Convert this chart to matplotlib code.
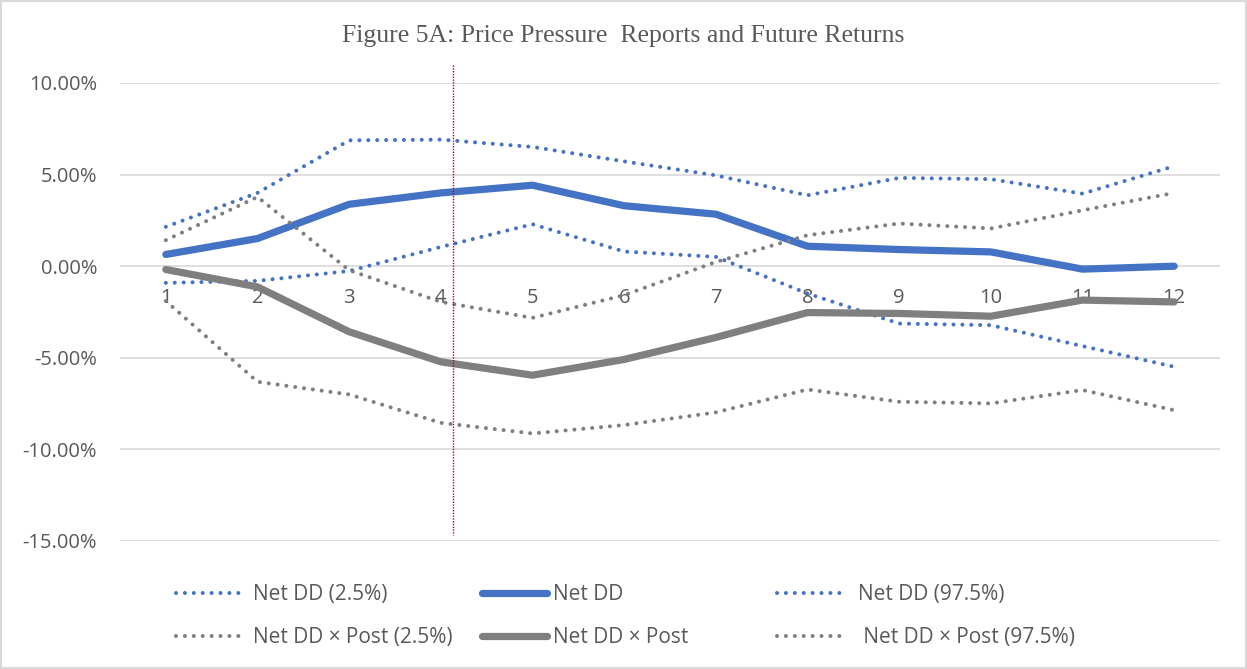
import matplotlib
matplotlib.use("Agg")
import matplotlib.pyplot as plt
from matplotlib.patches import Rectangle
from matplotlib.ticker import FuncFormatter

# data (in percent)
periods = list(range(1, 13))
net_dd = [0.64, 1.51, 3.38, 4.00, 4.42, 3.30, 2.84, 1.09, 0.91, 0.78, -0.16, 0.00]
net_dd_lo = [-0.91, -0.80, -0.26, 1.05, 2.29, 0.80, 0.51, -1.49, -3.13, -3.22, -4.36, -5.49]
net_dd_hi = [2.15, 4.00, 6.87, 6.91, 6.51, 5.72, 4.96, 3.87, 4.82, 4.75, 3.96, 5.46]
post = [-0.18, -1.13, -3.58, -5.22, -5.95, -5.09, -3.89, -2.53, -2.58, -2.73, -1.85, -1.95]
post_lo = [-1.90, -6.31, -7.00, -8.55, -9.13, -8.67, -7.98, -6.73, -7.40, -7.49, -6.76, -7.86]
post_hi = [1.42, 3.78, -0.22, -1.95, -2.82, -1.58, 0.23, 1.69, 2.33, 2.06, 3.05, 4.00]
y_ticks = [-15, -10, -5, 0, 5, 10]
event_x = 4.13   # red marker line

plt.rcParams['font.family'] = ['Open Sans', 'DejaVu Sans']

BLUE = '#4472C4'
GRAY = '#7F7F7F'
TXT = '#595959'
dots = (0, (0.01, 2.2))

fig = plt.figure(figsize=(12.47, 6.69), dpi=100)
ax = fig.add_axes([120/1247, 1 - 541/669, 1100/1247, 458/669])

# chart border
fig.patches.append(Rectangle((0.001, 0.001), 0.998, 0.998, transform=fig.transFigure,
                             fill=False, edgecolor='#D9D9D9', lw=1.5))

h1, = ax.plot(periods, net_dd_lo, color=BLUE, lw=2.9, ls=dots, dash_capstyle='round')
h2, = ax.plot(periods, net_dd, color=BLUE, lw=5.2, solid_capstyle='round', solid_joinstyle='round')
h3, = ax.plot(periods, net_dd_hi, color=BLUE, lw=2.9, ls=dots, dash_capstyle='round')
h4, = ax.plot(periods, post_lo, color=GRAY, lw=2.9, ls=dots, dash_capstyle='round')
h5, = ax.plot(periods, post, color=GRAY, lw=5.2, solid_capstyle='round', solid_joinstyle='round')
h6, = ax.plot(periods, post_hi, color=GRAY, lw=2.9, ls=dots, dash_capstyle='round')

ax.plot([event_x, event_x], [10.98, -14.67], color='#C00000', lw=1.0,
        ls=(0, (1, 1)), clip_on=False, zorder=5)

ax.set_xlim(0.5, 12.5)
ax.set_ylim(-15, 10)
ax.set_yticks(y_ticks)
ax.yaxis.set_major_formatter(FuncFormatter(lambda v, p: '%.2f%%' % v))
ax.set_xticks(periods)
ax.set_xticklabels([str(p) for p in periods])
ax.grid(axis='y', color='#D9D9D9', lw=1.2)
ax.set_axisbelow(True)
for s in ['top', 'right', 'left']:
    ax.spines[s].set_visible(False)
ax.spines['bottom'].set_position(('data', 0))
ax.spines['bottom'].set_color('none')
ax.tick_params(axis='both', length=0, labelsize=14.5, labelcolor=TXT)
ax.tick_params(axis='y', pad=16.5)
ax.tick_params(axis='x', pad=16)

fig.text(0.5, 1 - 36/669, 'Figure 5A: Price Pressure  Reports and Future Returns',
         ha='center', va='center', fontsize=18.5, color=TXT, family='Liberation Serif')

# legend in three separate columns
cols = [([h1, h4], ['Net DD (2.5%)', 'Net DD × Post (2.5%)'], 176, 0.6),
        ([h2, h5], ['Net DD', 'Net DD × Post'], 482, 0.3),
        ([h3, h6], ['Net DD (97.5%)', ' Net DD × Post (97.5%)'], 777, 0.8)]
for hs, labs, x0, tp in cols:
    fig.legend(hs, labs, loc='upper left', bbox_to_anchor=(x0/1247, 1 - 584/669),
               frameon=False, fontsize=15, handlelength=3.1, handletextpad=tp,
               labelspacing=1.05, borderpad=0, borderaxespad=0, labelcolor=TXT)

fig.savefig('out.png', dpi=100)
